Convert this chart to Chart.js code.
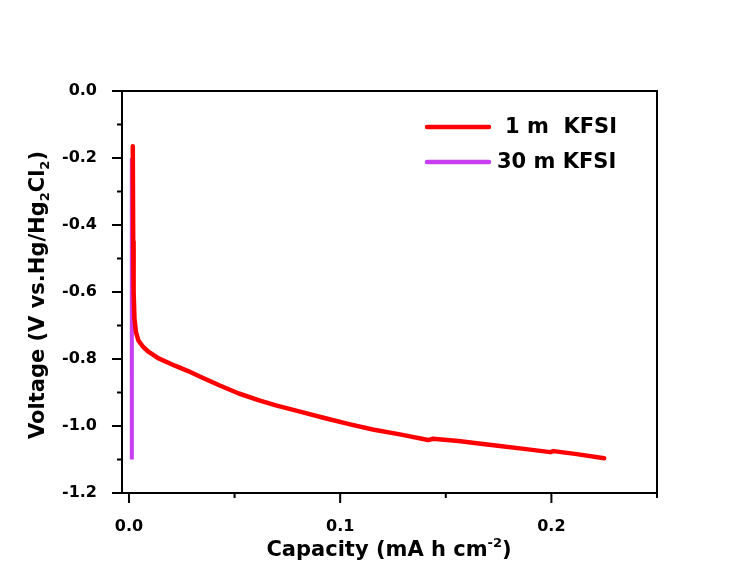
<!DOCTYPE html>
<html>
<head>
<meta charset="utf-8">
<script src="https://cdn.jsdelivr.net/npm/chart.js@4/dist/chart.umd.min.js"></script>
<style>
  html, body { margin: 0; padding: 0; background: #ffffff; }
  #wrap { width: 755px; height: 572px; position: relative; }
</style>
</head>
<body>
<div id="wrap"><canvas id="c" width="755" height="572"></canvas></div>
<script>
// ---- Data ----
const seriesNames = ["1 m  KFSI", "30 m KFSI"];
const seriesColors = ["rgb(255,0,0)", "rgb(198,62,240)"];

const cap1m = [0.0018, 0.0020, 0.0022, 0.0026, 0.0033, 0.0045, 0.0065, 0.0090, 0.0140, 0.0218,
               0.0280, 0.0335, 0.0430, 0.0520, 0.0620, 0.0700, 0.0810, 0.0930, 0.1047, 0.1160,
               0.1283, 0.1416, 0.1439, 0.1560, 0.1656, 0.1756, 0.1880, 0.1995, 0.2010, 0.2120,
               0.2250];
const volt1m = [-0.165, -0.45, -0.60, -0.68, -0.72, -0.745, -0.762, -0.777, -0.798, -0.820,
                -0.836, -0.852, -0.879, -0.903, -0.924, -0.939, -0.957, -0.977, -0.995, -1.011,
                -1.025, -1.042, -1.038, -1.045, -1.052, -1.060, -1.069, -1.078, -1.075, -1.084,
                -1.096];

const cap30m = [0.0014, 0.0014, 0.0013, 0.0014, 0.0013];
const volt30m = [-0.20, -0.60, -0.80, -1.00, -1.10];

const xMajorTicks = [0.0, 0.1, 0.2];
const xMinorTicks = [0.05, 0.15, 0.25];
const yMajorTicks = [0.0, -0.2, -0.4, -0.6, -0.8, -1.0, -1.2];
const yMinorTicks = [-0.1, -0.3, -0.5, -0.7, -0.9, -1.1];

const xTitle = { main: "Capacity (mA h cm", sup: "-2", tail: ")" };
const yTitleParts = [
  { t: "Voltage (V vs.Hg/Hg", sub: false },
  { t: "2", sub: true },
  { t: "Cl", sub: false },
  { t: "2", sub: true },
  { t: ")", sub: false }
];

const FONT = "'DejaVu Sans', 'Liberation Sans', Arial, sans-serif";

function pts(xs, ys) { return xs.map((x, i) => ({ x: x, y: ys[i] })); }

const decorPlugin = {
  id: 'decor',
  afterDraw(chart) {
    const ctx = chart.ctx;
    const ca = chart.chartArea;
    const xs = chart.scales.x, ys = chart.scales.y;
    ctx.save();
    // frame (top & right)
    ctx.strokeStyle = '#000';
    ctx.lineWidth = 2;
    ctx.beginPath();
    ctx.moveTo(ca.left - 1, ca.top);
    ctx.lineTo(ca.right, ca.top);
    ctx.lineTo(ca.right, ca.bottom + 1);
    ctx.stroke();
    // ticks
    ctx.lineWidth = 2;
    ctx.beginPath();
    xMajorTicks.forEach(v => { const p = xs.getPixelForValue(v); ctx.moveTo(p, ca.bottom); ctx.lineTo(p, ca.bottom + 10); });
    xMinorTicks.forEach(v => { const p = xs.getPixelForValue(v); ctx.moveTo(p, ca.bottom); ctx.lineTo(p, ca.bottom + 5); });
    yMajorTicks.forEach(v => { const p = ys.getPixelForValue(v); ctx.moveTo(ca.left, p); ctx.lineTo(ca.left - 10, p); });
    yMinorTicks.forEach(v => { const p = ys.getPixelForValue(v); ctx.moveTo(ca.left, p); ctx.lineTo(ca.left - 5, p); });
    ctx.stroke();

    // legend
    const legY = [127, 162];
    const legTextX = [505, 497];
    ctx.font = "bold 21px " + FONT;
    ctx.textBaseline = 'middle';
    ctx.textAlign = 'left';
    chart.data.datasets.forEach((ds, i) => {
      ctx.strokeStyle = ds.borderColor;
      ctx.lineWidth = 4.5;
      ctx.lineCap = 'round';
      ctx.beginPath();
      ctx.moveTo(427, legY[i]);
      ctx.lineTo(489, legY[i]);
      ctx.stroke();
      ctx.fillStyle = '#000';
      ctx.fillText(ds.label, legTextX[i], legY[i] + 1);
    });

    // x title
    ctx.textBaseline = 'alphabetic';
    const big = "bold 21px " + FONT, small = "bold 13px " + FONT;
    ctx.font = big; const w1 = ctx.measureText(xTitle.main).width; const w3 = ctx.measureText(xTitle.tail).width;
    ctx.font = small; const w2 = ctx.measureText(xTitle.sup).width;
    const total = w1 + w2 + w3;
    let x0 = 389 - total / 2; const base = 556;
    ctx.font = big; ctx.fillText(xTitle.main, x0, base);
    ctx.font = small; ctx.fillText(xTitle.sup, x0 + w1, base - 9);
    ctx.font = big; ctx.fillText(xTitle.tail, x0 + w1 + w2, base);

    // y title (rotated)
    let widths = yTitleParts.map(p => { ctx.font = p.sub ? small : big; return ctx.measureText(p.t).width; });
    const tw = widths.reduce((a, b) => a + b, 0);
    ctx.translate(44, 295);
    ctx.rotate(-Math.PI / 2);
    let cx = -tw / 2;
    yTitleParts.forEach((p, i) => {
      ctx.font = p.sub ? small : big;
      ctx.fillText(p.t, cx, p.sub ? 5 : 0);
      cx += widths[i];
    });
    ctx.restore();
  }
};

new Chart(document.getElementById('c'), {
  type: 'scatter',
  data: {
    datasets: [
      { label: seriesNames[0], data: pts(cap1m, volt1m), showLine: true, borderColor: seriesColors[0],
        backgroundColor: seriesColors[0], borderWidth: 4.5, pointRadius: 0, tension: 0,
        borderJoinStyle: 'round', borderCapStyle: 'round', order: 0 },
      { label: seriesNames[1], data: pts(cap30m, volt30m), showLine: true, borderColor: seriesColors[1],
        backgroundColor: seriesColors[1], borderWidth: 4, pointRadius: 0, tension: 0, order: 1 }
    ]
  },
  options: {
    responsive: false,
    animation: false,
    layout: { padding: { top: 91, right: 98, left: 0, bottom: 0 } },
    plugins: { legend: { display: false }, tooltip: { enabled: false } },
    scales: {
      x: {
        type: 'linear', min: -0.0033, max: 0.25,
        afterBuildTicks(s) { s.ticks = xMajorTicks.map(v => ({ value: v })); },
        afterFit(s) { s.height = 79; },
        grid: { display: false },
        border: { display: true, color: '#000', width: 2 },
        ticks: { color: '#000', padding: 16, font: { family: FONT, size: 16, weight: 'bold' },
                 callback: v => Number(v).toFixed(1), maxRotation: 0 }
      },
      y: {
        type: 'linear', min: -1.2, max: 0.0,
        afterBuildTicks(s) { s.ticks = yMajorTicks.map(v => ({ value: v })); },
        afterFit(s) { s.width = 122; },
        grid: { display: false },
        border: { display: true, color: '#000', width: 2 },
        ticks: { color: '#000', padding: 17, font: { family: FONT, size: 16, weight: 'bold' },
                 callback: v => Number(v).toFixed(1) }
      }
    }
  },
  plugins: [decorPlugin]
});
</script>
</body>
</html>
